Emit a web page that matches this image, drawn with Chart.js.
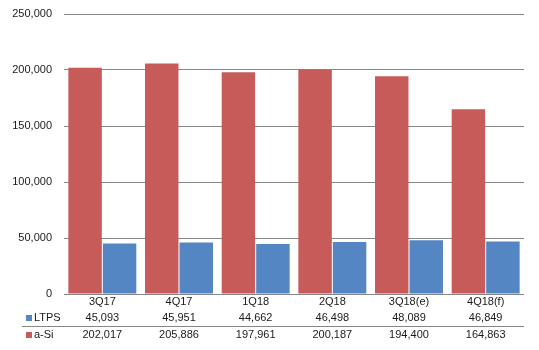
<!DOCTYPE html>
<html><head><meta charset="utf-8">
<script src="https://cdn.jsdelivr.net/npm/chart.js@4/dist/chart.umd.min.js"></script>
<style>html,body{margin:0;padding:0;background:#fff}#w{width:539px;height:350px}</style>
</head><body><div id="w"><canvas id="c"></canvas></div>
<script>
const categories = ['3Q17','4Q17','1Q18','2Q18','3Q18(e)','4Q18(f)'];
const seriesNames = ['a-Si','LTPS'];
const aSi = [202017,205886,197961,200187,194400,164863];
const ltps = [45093,45951,44662,46498,48089,46849];
const yTicks = [0,50000,100000,150000,200000,250000];
const colors = {aSi:'#C65B5A', ltps:'#5486C3'};
const FONT = 'Liberation Sans, Arial, sans-serif';
const fmt = v => v.toLocaleString('en-US');

const tablePlugin = {
  id:'tbl',
  afterDraw(chart){
    const ctx = chart.ctx, x = chart.scales.x, ca = chart.chartArea;
    ctx.save();
    ctx.font = '11px ' + FONT;
    ctx.fillStyle = '#1a1a1a';
    ctx.textAlign = 'center';
    ctx.textBaseline = 'middle';
    categories.forEach((c,i)=>{
      const px = x.getPixelForValue(i);
      ctx.fillText(c, px, 302);
      ctx.fillText(fmt(ltps[i]), px, 318);
      ctx.fillText(fmt(aSi[i]), px, 335);
    });
    ctx.strokeStyle = '#868686';
    ctx.lineWidth = 1;
    ctx.beginPath();
    ctx.moveTo(22, 326.5); ctx.lineTo(ca.right, 326.5);
    ctx.stroke();
    ctx.textAlign = 'left';
    ctx.fillStyle = colors.ltps;
    ctx.fillRect(26, 315, 6, 6);
    ctx.fillStyle = colors.aSi;
    ctx.fillRect(26, 332, 6, 6);
    ctx.fillStyle = '#1a1a1a';
    ctx.fillText(seriesNames[1], 34, 318);
    ctx.fillText(seriesNames[0], 34, 335);
    ctx.restore();
  }
};

new Chart(document.getElementById('c'), {
  type:'bar',
  data:{
    labels: categories,
    datasets:[
      {label:seriesNames[0], data:aSi, backgroundColor:colors.aSi, categoryPercentage:0.9, barPercentage:0.97},
      {label:seriesNames[1], data:ltps, backgroundColor:colors.ltps, categoryPercentage:0.9, barPercentage:0.97}
    ]
  },
  options:{
    responsive:true, maintainAspectRatio:false, animation:false,
    devicePixelRatio:1,
    layout:{padding:{top:14, right:15, bottom:56, left:0}},
    plugins:{legend:{display:false}, tooltip:{enabled:false}},
    scales:{
      x:{ display:false },
      y:{
        min:0, max:250000,
        afterFit(s){ s.width = 64; s.paddingTop = 0; s.paddingBottom = 0; },
        afterBuildTicks(s){ s.ticks = yTicks.map(v=>({value:v})); },
        ticks:{font:{family:FONT,size:11}, color:'#1a1a1a', padding:12, callback:v=>fmt(v)},
        grid:{color:'#868686', drawTicks:false},
        border:{display:false}
      }
    }
  },
  plugins:[tablePlugin]
});
</script>
</body></html>
